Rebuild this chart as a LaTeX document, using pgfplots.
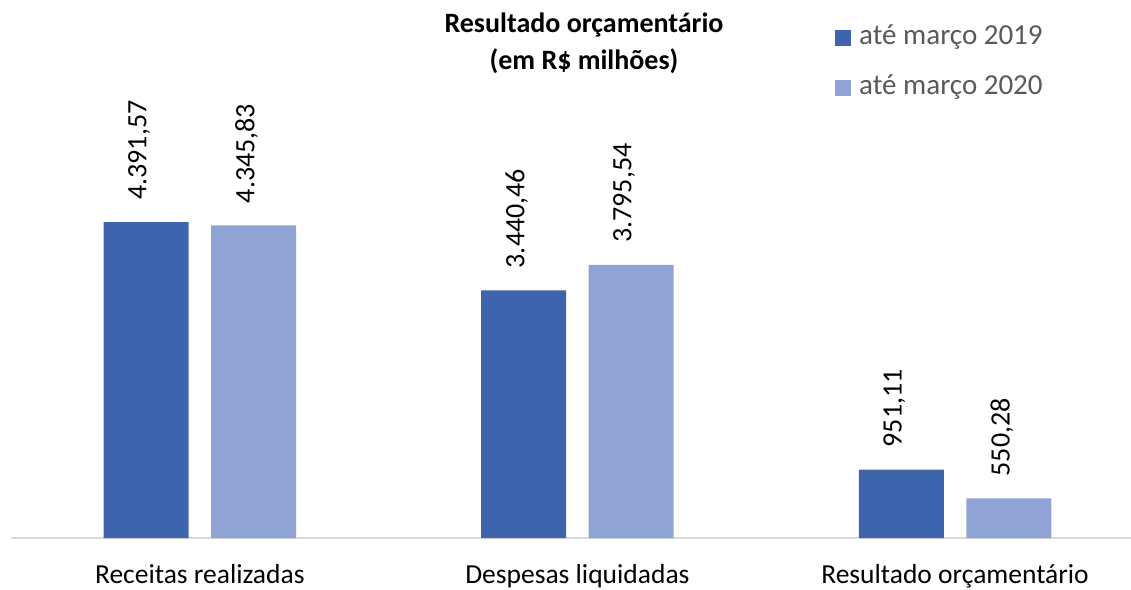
\documentclass[border=0pt]{standalone}
\usepackage{fontspec}
\setmainfont{Carlito}
\usepackage{pgfplots}
\pgfplotsset{compat=1.18}
\definecolor{c19}{HTML}{3D64AD}
\definecolor{c20}{HTML}{8FA3D5}
\definecolor{axgray}{HTML}{D9D9D9}
\definecolor{leggray}{HTML}{595959}
\begin{document}
\begin{tikzpicture}[x=1pt,y=1pt]
\path[use as bounding box] (0,0) rectangle (1131,589);
\begin{axis}[
  at={(11pt,51pt)}, anchor=south west,
  scale only axis, width=1120pt, height=538pt,
  xmin=-0.5, xmax=2.466, ymin=0, ymax=7477,
  axis x line=bottom, axis y line=none,
  x axis line style={draw=axgray, line width=1.5pt, -},
  xtick={0,1,2},
  xticklabels={Receitas realizadas, Despesas liquidadas, Resultado orçamentário},
  major tick length=0pt,
  xticklabel style={font=\fontsize{27.5}{33}\selectfont, anchor=base, yshift=-45pt, text=black},
  ybar, bar width=85pt,
  nodes near coords={\pgfmathprintnumber[fixed, fixed zerofill, precision=2, use comma, 1000 sep={.}, assume math mode=true]{\pgfplotspointmeta}},
  every node near coord/.append style={font=\fontsize{28}{33}\selectfont, text=black, yshift=22pt, xshift=-7pt, rotate=90, anchor=west, inner sep=0pt},
  legend image code/.code={\fill[#1] (0pt,-8pt) rectangle (16pt,8pt);},
  legend style={draw=none, fill=none, at={(0.7357,0.957)}, anchor=north west, inner sep=0pt,
    font=\fontsize{29}{34}\selectfont, text=leggray, column sep=8pt, row sep=21pt,
    nodes={inner sep=0pt, text height=21pt, text depth=8pt}},
  legend cell align=left,
]
\addplot[fill=c19, draw=none, bar shift=-53.75pt] coordinates {(0,4391.57) (1,3440.46) (2,951.11)};
\addplot[fill=c20, draw=none, bar shift=53.75pt] coordinates {(0,4345.83) (1,3795.54) (2,550.28)};
\legend{até março 2019, até março 2020}
\end{axis}
\node[anchor=base, font=\fontsize{28}{33}\selectfont\bfseries] at (584,556) {Resultado orçamentário};
\node[anchor=base, font=\fontsize{28}{33}\selectfont\bfseries] at (584,519) {(em R\$ milhões)};
\end{tikzpicture}
\end{document}
